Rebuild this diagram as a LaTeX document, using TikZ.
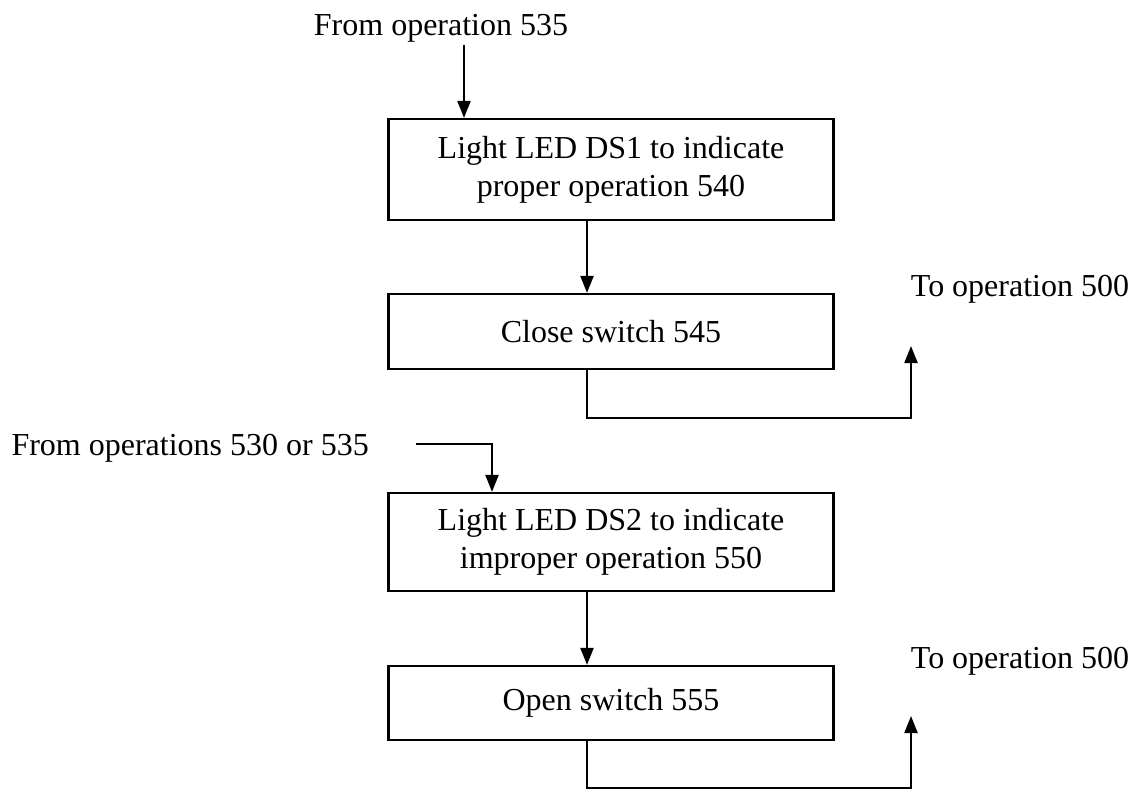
\documentclass[tikz,border=0pt]{standalone}
\usepackage{fontspec}
\setmainfont{Liberation Serif}
\usepackage{tikz}
\usetikzlibrary{arrows.meta,positioning}

\begin{document}
\begin{tikzpicture}[x=1pt,y=-1pt,
		font=\fontsize{32}{38}\selectfont,
		opbox/.style={draw,line width=2.2pt,minimum width=445pt,align=center,inner sep=0pt},
		flow/.style={line width=2.2pt,-{Triangle[length=17pt,width=13pt]}}]
		\useasboundingbox (0,0) rectangle (1132,793);
		% cajas
		\node[opbox,minimum height=101pt] (led1) at (611,169.5) {Light LED DS1 to indicate\\proper operation 540};
		\node[opbox,minimum height=75pt] (close) at (611,331.5) {Close switch 545};
		\node[opbox,minimum height=98pt] (led2) at (611,542) {Light LED DS2 to indicate\\improper operation 550};
		\node[opbox,minimum height=74pt] (open) at (611,703) {Open switch 555};
		% textos
		\node (from535) at (441,28) {From operation 535};
		\node (to1) at (1020,289) {To operation 500};
		\node[anchor=west] (from530) at (8,448) {From operations 530 or 535};
		\node (to2) at (1020,661) {To operation 500};
		% puntos
		\coordinate (in1) at (464,45);
		\coordinate (down) at (587,0);
		\coordinate (ret1) at (911,418);
		\coordinate (out1) at (911,346);
		\coordinate (in2) at (416,444);
		\coordinate (drop2) at (492,0);
		\coordinate (ret2) at (911,788);
		\coordinate (out2) at (911,716);
		% flechas
		\draw[flow] (in1) -- (in1 |- led1.north);
		\draw[flow] (down |- led1.south) -- (down |- close.north);
		\draw[flow] (down |- close.south) |- (ret1) -- (out1);
		\draw[flow] (in2) -| (drop2 |- led2.north);
		\draw[flow] (down |- led2.south) -- (down |- open.north);
		\draw[flow] (down |- open.south) |- (ret2) -- (out2);
\end{tikzpicture}
\end{document}
